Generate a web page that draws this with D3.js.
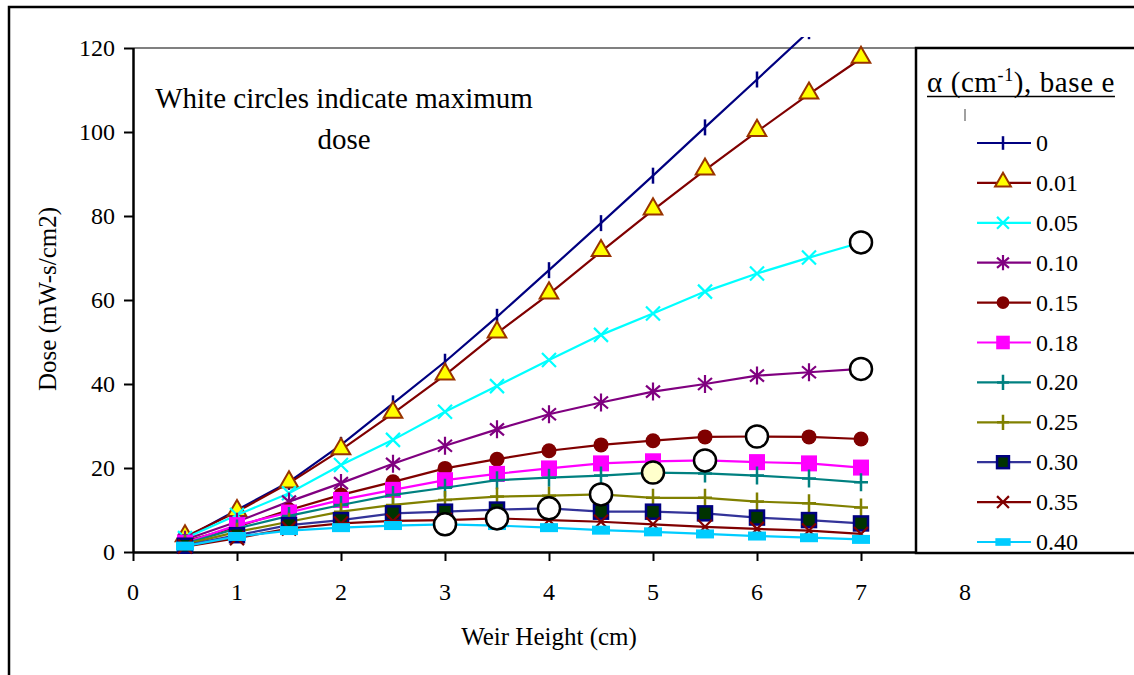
<!DOCTYPE html>
<html>
<head>
<meta charset="utf-8">
<script src="https://cdn.jsdelivr.net/npm/d3@7"></script>
<style>
  html, body { margin: 0; padding: 0; background: #fff; }
  svg { display: block; }
  svg text { font-family: "Liberation Serif", "Times New Roman", Times, "DejaVu Serif", serif; }
</style>
</head>
<body>
<svg id="chart" width="1134" height="675"></svg>
<script>
// Weir height (cm) at which dose was computed
const weirHeights = [0.5, 1, 1.5, 2, 2.5, 3, 3.5, 4, 4.5, 5, 5.5, 6, 6.5, 7];

// Absorption coefficient labels (cm^-1, base e)
const alphaLabels = ["0", "0.01", "0.05", "0.10", "0.15", "0.18", "0.20", "0.25", "0.30", "0.35", "0.40"];

// Dose (mW-s/cm2) for each absorption coefficient
const dose0    = [3.3, 10.0, 16.7, 25.5, 35.4, 45.3, 56.0, 67.1, 78.3, 89.6, 101.1, 112.5, 124.0, 135.5];
const dose001  = [3.6, 9.6, 16.4, 24.3, 33.0, 42.1, 52.1, 61.4, 71.5, 81.4, 90.9, 100.1, 109.0, 117.5];
const dose005  = [3.3, 8.8, 14.0, 20.7, 26.7, 33.4, 39.5, 45.7, 51.7, 56.8, 62.0, 66.3, 70.1, 73.7];
const dose010  = [2.9, 7.2, 12.0, 16.4, 21.0, 25.3, 29.2, 32.8, 35.6, 38.2, 40.0, 42.0, 42.8, 43.6];
const dose015  = [2.5, 6.0, 10.0, 13.6, 16.7, 19.9, 22.1, 24.1, 25.5, 26.5, 27.4, 27.5, 27.4, 26.9];
const dose018  = [2.2, 6.4, 9.4, 12.4, 14.8, 17.1, 18.6, 19.9, 21.1, 21.6, 21.8, 21.4, 21.1, 20.1];
const dose020  = [2.0, 5.6, 8.6, 11.2, 13.6, 15.3, 17.1, 17.7, 18.2, 18.9, 18.7, 18.2, 17.5, 16.6];
const dose025  = [1.8, 4.8, 7.2, 9.6, 11.2, 12.4, 13.2, 13.4, 13.7, 12.9, 12.9, 12.0, 11.6, 10.6];
const dose030  = [1.5, 4.0, 6.4, 7.6, 9.2, 9.6, 10.1, 10.4, 9.6, 9.6, 9.2, 8.2, 7.6, 6.8];
const dose035  = [1.3, 3.3, 5.6, 6.8, 7.4, 7.6, 8.0, 7.6, 7.2, 6.6, 6.0, 5.5, 5.1, 4.3];
const dose040  = [1.4, 3.7, 5.1, 5.8, 6.3, 6.6, 6.3, 5.8, 5.2, 4.8, 4.3, 3.8, 3.4, 3.0];

// Maximum-dose points (weir height, dose), marked with open circles
const maxHeights = [7, 7, 6, 5.5, 5, 4.5, 4, 3.5, 3];
const maxDoses   = [73.7, 43.6, 27.5, 21.8, 18.9, 13.7, 10.4, 8.0, 6.6];

const xTicks = [0, 1, 2, 3, 4, 5, 6, 7];
const xTickLabels = [0, 1, 2, 3, 4, 5, 6, 7, 8];
const yTicks = [0, 20, 40, 60, 80, 100, 120];

const allDose = [dose0, dose001, dose005, dose010, dose015, dose018, dose020, dose025, dose030, dose035, dose040];

// Line colour, marker type and marker colours for each series
const styles = [
  { line: "#000080", marker: "vtick",    fill: "none",    stroke: "#000080" },
  { line: "#800000", marker: "triangle", fill: "#FFFF00", stroke: "#993300" },
  { line: "#00FFFF", marker: "cross",    fill: "none",    stroke: "#00FFFF" },
  { line: "#800080", marker: "star",     fill: "none",    stroke: "#800080" },
  { line: "#800000", marker: "dot",      fill: "#800000", stroke: "none" },
  { line: "#FF00FF", marker: "square",   fill: "#FF00FF", stroke: "none" },
  { line: "#008080", marker: "plus",     fill: "none",    stroke: "#008080" },
  { line: "#808000", marker: "plus",     fill: "none",    stroke: "#808000" },
  { line: "#333399", marker: "box",      fill: "#003300", stroke: "#000080" },
  { line: "#800000", marker: "cross",    fill: "none",    stroke: "#800000" },
  { line: "#00CCFF", marker: "bar",      fill: "#00CCFF", stroke: "none" }
];

const series = alphaLabels.map((lab, i) => ({
  label: lab,
  values: weirHeights.map((h, j) => ({ x: h, y: allDose[i][j] })),
  style: styles[i]
}));
const maxPoints = maxHeights.map((h, i) => ({ x: h, y: maxDoses[i] }));

const SERIF = '"Liberation Serif", "Times New Roman", Times, "DejaVu Serif", serif';
const svg = d3.select("#chart");

// Plot frame geometry
const plot = { left: 133, right: 916, top: 48, bottom: 552 };
const x = d3.scaleLinear().domain([0, 1]).range([plot.left, plot.left + 104]);
const y = d3.scaleLinear().domain([0, 120]).range([plot.bottom, plot.top]);

// Outer chart border
svg.append("path")
  .attr("d", "M9,675V7H1140")
  .attr("fill", "none").attr("stroke", "#000").attr("stroke-width", 2.5);

// Gray top border of the plot area
svg.append("line")
  .attr("x1", plot.left).attr("x2", plot.right)
  .attr("y1", plot.top).attr("y2", plot.top)
  .attr("stroke", "#808080").attr("stroke-width", 2);

// Clip for the series
svg.append("clipPath").attr("id", "plotClip")
  .append("rect")
  .attr("x", plot.left).attr("y", 37)
  .attr("width", plot.right - plot.left).attr("height", plot.bottom - 37 + 20);

// Y axis
const yAxis = svg.append("g")
  .attr("transform", `translate(${plot.left},0)`)
  .call(d3.axisLeft(y).tickValues(yTicks).tickSize(9).tickPadding(9).tickFormat(d3.format("d")));
yAxis.attr("font-family", SERIF);
yAxis.select(".domain").attr("stroke", "#000").attr("stroke-width", 2.5)
  .attr("d", `M0.5,${plot.top}V${plot.bottom}`);
yAxis.selectAll(".tick line").attr("stroke", "#000").attr("stroke-width", 2);
yAxis.selectAll(".tick text")
  .attr("font-size", 24).attr("fill", "#000");

// X axis: line with ticks, labels set lower beneath it
const xAxis = svg.append("g")
  .attr("transform", `translate(0,${plot.bottom})`)
  .call(d3.axisBottom(x).tickValues(xTicks).tickSize(9).tickFormat(""));
xAxis.select(".domain").attr("stroke", "#000").attr("stroke-width", 2.5)
  .attr("d", `M${plot.left},0.5H${plot.right}`);
xAxis.selectAll(".tick line").attr("stroke", "#000").attr("stroke-width", 2);

svg.append("g").selectAll("text")
  .data(xTickLabels)
  .join("text")
  .attr("x", d => x(d))
  .attr("y", 600)
  .attr("text-anchor", "middle")
  .attr("font-size", 24)
  .text(d => d);

// Axis titles
svg.append("text")
  .attr("transform", "translate(56,299) rotate(-90)")
  .attr("text-anchor", "middle")
  .attr("font-size", 25)
  .text("Dose (mW-s/cm2)");

svg.append("text")
  .attr("x", 549).attr("y", 645)
  .attr("text-anchor", "middle")
  .attr("font-size", 25)
  .text("Weir Height (cm)");

// Annotation
const note = svg.append("text").attr("text-anchor", "middle").attr("font-size", 29);
note.append("tspan").attr("x", 344).attr("y", 108).text("White circles indicate maximum");
note.append("tspan").attr("x", 344).attr("y", 149).text("dose");

// Marker drawing
function drawMarker(g, st, scale) {
  const k = scale || 1;
  switch (st.marker) {
    case "vtick":
      g.append("path").attr("d", `M0,${-8 * k}V${8 * k}`)
        .attr("stroke", st.stroke).attr("stroke-width", 2.5);
      break;
    case "triangle":
      g.append("path").attr("d", d3.symbol(d3.symbolTriangle, 150 * k * k)())
        .attr("transform", "translate(0,-1)")
        .attr("fill", st.fill).attr("stroke", st.stroke).attr("stroke-width", 2);
      break;
    case "cross":
      g.append("path").attr("d", `M${-7 * k},${-7 * k}L${7 * k},${7 * k}M${-7 * k},${7 * k}L${7 * k},${-7 * k}`)
        .attr("stroke", st.stroke).attr("stroke-width", 2.2);
      break;
    case "star":
      g.append("path").attr("d", `M${-7 * k},${-6 * k}L${7 * k},${6 * k}M${-7 * k},${6 * k}L${7 * k},${-6 * k}M0,${-9 * k}V${9 * k}`)
        .attr("stroke", st.stroke).attr("stroke-width", 2.2);
      break;
    case "dot":
      g.append("circle").attr("r", 7.5 * k).attr("fill", st.fill);
      break;
    case "square":
      g.append("rect").attr("x", -8 * k).attr("y", -8 * k).attr("width", 16 * k).attr("height", 16 * k)
        .attr("fill", st.fill);
      break;
    case "plus":
      g.append("path").attr("d", `M${-7 * k},0H${7 * k}M0,${-9 * k}V${9 * k}`)
        .attr("stroke", st.stroke).attr("stroke-width", 2.5);
      break;
    case "box":
      g.append("rect").attr("x", -7 * k).attr("y", -7 * k).attr("width", 14 * k).attr("height", 14 * k)
        .attr("fill", st.fill).attr("stroke", st.stroke).attr("stroke-width", 2.5);
      break;
    case "bar":
      g.append("rect").attr("x", -9 * k).attr("y", -4.5 * k).attr("width", 18 * k).attr("height", 9 * k)
        .attr("fill", st.fill);
      break;
  }
}

// Series lines and markers
const line = d3.line().x(d => x(d.x)).y(d => y(d.y));
const plotG = svg.append("g").attr("clip-path", "url(#plotClip)");

series.forEach(s => {
  const g = plotG.append("g");
  g.append("path")
    .datum(s.values)
    .attr("d", line)
    .attr("fill", "none")
    .attr("stroke", s.style.line)
    .attr("stroke-width", 2.2);
  g.selectAll("g.pt")
    .data(s.values)
    .join("g")
    .attr("class", "pt")
    .attr("transform", d => `translate(${x(d.x)},${y(d.y)})`)
    .each(function () { drawMarker(d3.select(this), s.style); });
});

// Maximum-dose circles
svg.append("g").selectAll("circle")
  .data(maxPoints)
  .join("circle")
  .attr("cx", d => x(d.x))
  .attr("cy", d => y(d.y))
  .attr("r", 11)
  .attr("fill", (d, i) => i === 4 ? "#FFFFCC" : "#fff")
  .attr("stroke", "#000")
  .attr("stroke-width", 2.5);

// Legend box
const legendLeft = 916;
svg.append("rect")
  .attr("x", legendLeft).attr("y", 48)
  .attr("width", 1134 - legendLeft + 20).attr("height", 553 - 48)
  .attr("fill", "#fff").attr("stroke", "#000").attr("stroke-width", 2.5);

// Legend title with superscript, underlined
const title = svg.append("text")
  .attr("x", 927).attr("y", 92)
  .attr("font-size", 29)
  .attr("letter-spacing", 0.6);
title.append("tspan").text("α (cm");
title.append("tspan").attr("font-size", 18).attr("dy", -11).text("-1");
title.append("tspan").attr("dy", 11).text("), base e");
const tw = title.node().getComputedTextLength();
svg.append("line")
  .attr("x1", 927).attr("x2", 927 + tw)
  .attr("y1", 96.5).attr("y2", 96.5)
  .attr("stroke", "#000").attr("stroke-width", 1.5);

svg.append("line")
  .attr("x1", 965).attr("x2", 965).attr("y1", 109).attr("y2", 121)
  .attr("stroke", "#808080").attr("stroke-width", 1.5);

const legendRows = svg.append("g").selectAll("g")
  .data(series)
  .join("g")
  .attr("transform", (d, i) => `translate(0,${143 + i * 39.9})`);

legendRows.append("line")
  .attr("x1", 977).attr("x2", 1031)
  .attr("stroke", d => d.style.line).attr("stroke-width", 2.2);
legendRows.each(function (d) {
  const mg = d3.select(this).append("g").attr("transform", "translate(1003,0)");
  drawMarker(mg, d.style, 0.85);
});
legendRows.append("text")
  .attr("x", 1036).attr("y", 8)
  .attr("font-size", 24)
  .text(d => d.label);
</script>
</body>
</html>
